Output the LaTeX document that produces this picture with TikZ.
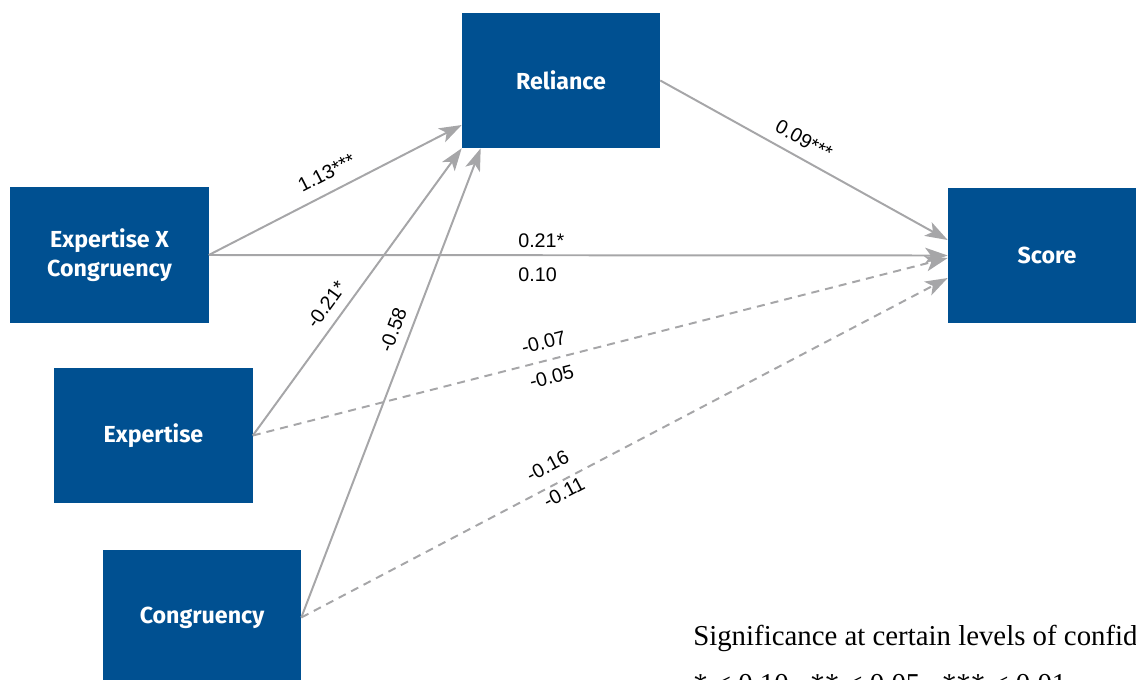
\documentclass[tikz,border=0pt]{standalone}
\usepackage{fontspec}
\setmainfont{Liberation Serif}
\setsansfont{Liberation Sans}
\newfontfamily\boitefont{Fira Sans}
\usepackage{tikz}
\usetikzlibrary{arrows.meta,calc}
\definecolor{bleuboite}{RGB}{0,80,145}
\definecolor{grisfleche}{RGB}{166,166,168}

\begin{document}
\begin{tikzpicture}[x=0.025cm,y=-0.025cm,
	boite/.style={fill=bleuboite,text=white,minimum width=4.95cm,minimum height=3.375cm,inner sep=0pt,align=center,font=\boitefont\bfseries\fontsize{16.5}{20.6}\selectfont},
	fleche/.style={draw=grisfleche,line width=1.4pt,-{Stealth[length=16pt,width=11pt,inset=4pt]}},
	pointille/.style={fleche,dash pattern=on 5.7pt off 4.3pt},
	coef/.style={font=\sffamily\fontsize{14}{16}\selectfont,sloped,inner sep=1pt}]
	%
	% Cadre de l'image
	\def\largeur{1136}
	\def\hauteur{679}
	\useasboundingbox (0,0) rectangle (\largeur,\hauteur);
	\clip (0,0) rectangle (\largeur,\hauteur);
	%
	% Boites
	\node[boite] (rel) at (561,80.5) {Reliance};
	\node[boite] (exc) at (109.5,255) {Expertise X\\Congruency};
	\node[boite] (exp) at (153.5,435.5) {Expertise};
	\node[boite] (con) at (202,617.5) {Congruency};
	\node[boite] (sco) at (1047,255.5) {Score};
	%
	% Fleches pleines
	\draw[fleche] (exc.east) -- ($(rel.west)+(0,44.5)$) node[coef,pos=0.5,above=7pt] {1.13***};
	\draw[fleche] (exc.east) -- (sco.west) node[coef,pos=0.45,above=4pt] {0.21*} node[coef,pos=0.445,below=7pt] {0.10};
	\draw[fleche] (rel.east) -- ($(sco.west)+(0,-15.5)$) node[coef,pos=0.47,above=6pt] {0.09***};
	\draw[fleche] (exp.east) -- (rel.south west) node[coef,pos=0.42,above=6pt] {-0.21*};
	\draw[fleche] (con.east) -- ($(rel.south west)+(19,0)$) node[coef,pos=0.6,above=5.5pt] {-0.58};
	%
	% Fleches pointillees
	\draw[pointille] (exp.east) -- ($(sco.west)+(0,2.5)$) node[coef,pos=0.425,above=6.3pt] {-0.07} node[coef,pos=0.424,below=5.5pt] {-0.05};
	\draw[pointille] (con.east) -- ($(sco.west)+(0,22.5)$) node[coef,pos=0.395,above=7.2pt] {-0.16} node[coef,pos=0.398,below=1.5pt] {-0.11};
	%
	% Legende
	\node[anchor=base west,inner sep=0pt,font=\rmfamily\fontsize{20.5}{24}\selectfont] (leg1) at (693,645) {Significance at certain levels of confidence:};
	\node[anchor=base west,inner sep=0pt,font=\rmfamily\fontsize{20.5}{24}\selectfont] (leg2) at (693,693) {* < 0.10,\ \ ** < 0.05,\ \ *** < 0.01};
\end{tikzpicture}
\end{document}
